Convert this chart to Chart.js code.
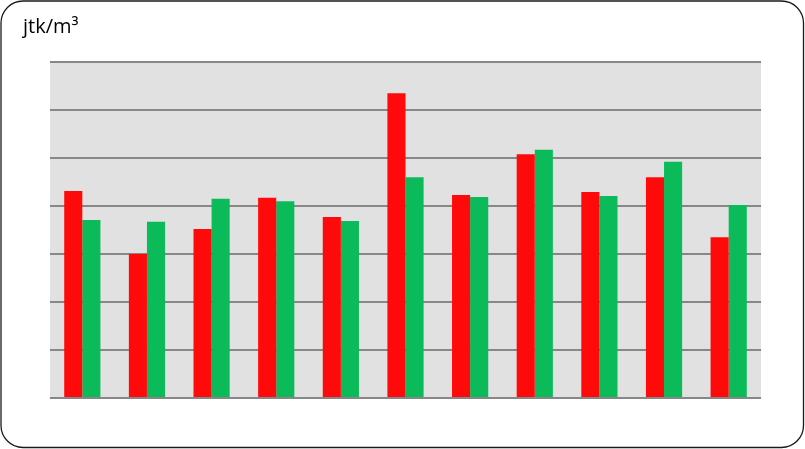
<!DOCTYPE html>
<html>
<head>
<meta charset="utf-8">
<script src="https://cdn.jsdelivr.net/npm/chart.js@4"></script>
<style>
  html, body { margin: 0; padding: 0; background: #fff; }
  #wrap { width: 805px; height: 449px; position: relative; }
</style>
</head>
<body>
<div id="wrap"><canvas id="c" width="805" height="449"></canvas></div>
<script>
const categories = ["1", "2", "3", "4", "5", "6", "7", "8", "9", "10", "11"];
const seriesRed = [4.31, 3.00, 3.52, 4.17, 3.77, 6.35, 4.23, 5.08, 4.29, 4.60, 3.35];
const seriesGreen = [3.71, 3.67, 4.15, 4.10, 3.69, 4.60, 4.19, 5.17, 4.21, 4.92, 4.02];
const yMin = 0, yMax = 7, yStep = 1;
const unitTitle = "jtk/m³";

const framePlugin = {
  id: 'frame',
  beforeDraw(chart) {
    const ctx = chart.ctx;
    const a = chart.chartArea;
    ctx.save();
    ctx.fillStyle = '#fff';
    ctx.fillRect(0, 0, chart.width, chart.height);
    ctx.fillStyle = '#E1E1E1';
    ctx.fillRect(a.left, a.top, a.right - a.left, a.bottom - a.top);
    ctx.restore();
  },
  afterDraw(chart) {
    const ctx = chart.ctx;
    ctx.save();
    ctx.beginPath();
    ctx.roundRect(1, 1, chart.width - 2.5, chart.height - 2.5, 22);
    ctx.strokeStyle = '#1a1a1a';
    ctx.lineWidth = 1.3;
    ctx.stroke();
    ctx.fillStyle = '#000';
    ctx.font = '20px "Open Sans", "Noto Sans", sans-serif';
    ctx.textBaseline = 'alphabetic';
    ctx.fillText(unitTitle, 23, 33);
    ctx.restore();
  }
};

new Chart(document.getElementById('c'), {
  type: 'bar',
  data: {
    labels: categories,
    datasets: [
      { label: 'A', data: seriesRed, backgroundColor: '#FF0A0A', borderWidth: 0 },
      { label: 'B', data: seriesGreen, backgroundColor: '#0BBB5A', borderWidth: 0 }
    ]
  },
  options: {
    responsive: false,
    animation: false,
    devicePixelRatio: 1,
    layout: { padding: { left: 50, right: 44, top: 62, bottom: 51 } },
    plugins: { legend: { display: false }, tooltip: { enabled: false }, title: { display: false } },
    datasets: { bar: { categoryPercentage: 0.56, barPercentage: 1.0 } },
    scales: {
      x: {
        display: false,
        grid: { display: false }
      },
      y: {
        display: true,
        min: yMin, max: yMax,
        ticks: { display: false, stepSize: yStep },
        border: { display: false },
        grid: { color: '#878787', lineWidth: 2, drawTicks: false, tickLength: 0 }
      }
    }
  },
  plugins: [framePlugin]
});
</script>
</body>
</html>
